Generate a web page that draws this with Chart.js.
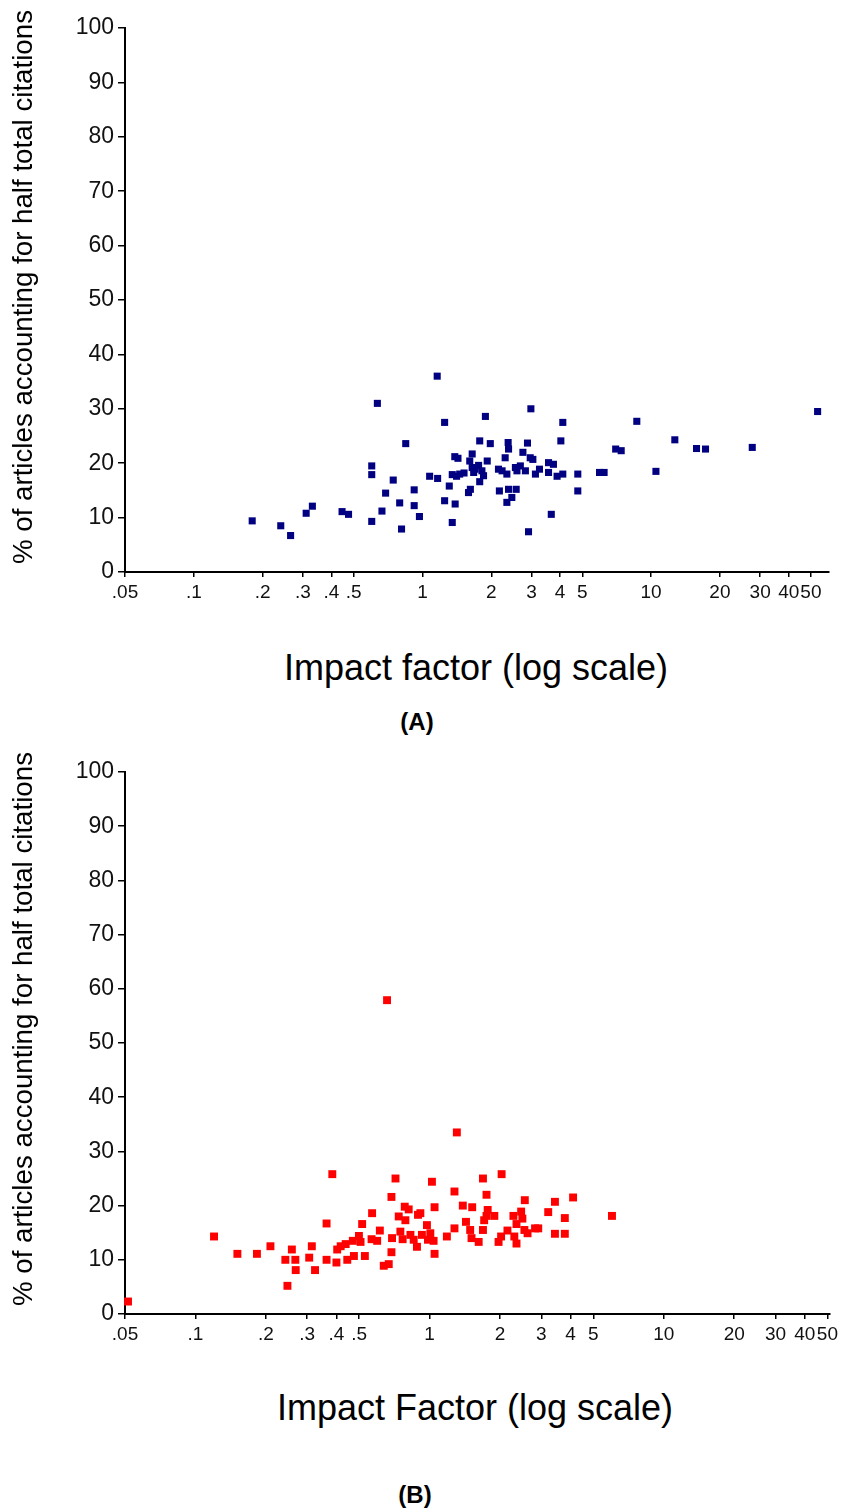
<!DOCTYPE html>
<html lang="en">
<head>
<meta charset="UTF-8">
<title>Half total citations vs impact factor</title>
<script src="https://cdn.jsdelivr.net/npm/chart.js@4"></script>
<style>
    body {
        margin: 0;
        background: #fff;
        font-family: 'Liberation Sans', Arial, sans-serif;
    }

    .page {
        position: relative;
        width: 842px;
        height: 1510px;
        overflow: hidden;
    }

    canvas {
        position: absolute;
        left: 0;
    }

    /* axis titles and panel letters */
    .xtitle {
        position: absolute;
        left: 176px;
        width: 600px;
        text-align: center;
        font-size: 36px;
        line-height: 36px;
        color: #000;
        white-space: nowrap;
    }

    .ytitle {
        position: absolute;
        width: 600px;
        height: 28px;
        text-align: center;
        font-size: 27.7px;
        line-height: 28px;
        color: #000;
        white-space: nowrap;
        transform: rotate(-90deg);
    }

    .panel {
        position: absolute;
        left: 317px;
        width: 200px;
        text-align: center;
        font-size: 24px;
        line-height: 24px;
        font-weight: bold;
        color: #000;
    }
</style>
</head>
<body>
<div class="page">
    <canvas id="chartA" width="842" height="610" style="top:0"></canvas>
    <div class="ytitle" style="left:-277px; top:273px;">% of articles accounting for half total citations</div>
    <div class="xtitle" style="top:650px;">Impact factor (log scale)</div>
    <div class="panel" style="top:710px;">(A)</div>

    <canvas id="chartB" width="842" height="610" style="top:740px"></canvas>
    <div class="ytitle" style="left:-277px; top:1015px;">% of articles accounting for half total citations</div>
    <div class="xtitle" style="top:1390px; left:175px;">Impact Factor (log scale)</div>
    <div class="panel" style="top:1483px; left:315px;">(B)</div>
</div>

<script>
    // Axis ticks
    const xTickValues = [0.05, 0.1, 0.2, 0.3, 0.4, 0.5, 1, 2, 3, 4, 5, 10, 20, 30, 40, 50];
    const xTickLabels = ['.05', '.1', '.2', '.3', '.4', '.5', '1', '2', '3', '4', '5', '10', '20', '30', '40', '50'];
    const yTickValues = [0, 10, 20, 30, 40, 50, 60, 70, 80, 90, 100];

    // Panel A - impact factor vs % of articles
    const impactA = [
        0.18, 0.24, 0.265, 0.31, 0.33, 0.445, 0.475, 0.60, 0.60, 0.60,
        0.635, 0.665, 0.69, 0.745, 0.795, 0.81, 0.845, 0.92, 0.92, 0.97,
        1.075, 1.165, 1.16, 1.25, 1.25, 1.31, 1.35, 1.385, 1.43, 1.35,
        1.455, 1.39, 1.41, 1.59, 1.62, 1.65, 1.61, 1.65, 1.675, 1.78,
        1.78, 1.82, 1.85, 1.885, 1.92, 1.98, 1.76, 1.70, 2.15, 2.17,
        2.23, 2.30, 2.34, 2.37, 2.38, 2.34, 2.38, 2.46, 2.57, 2.55,
        2.68, 2.75, 2.82, 2.88, 2.91, 2.98, 2.96, 3.04, 3.12, 3.25,
        3.56, 3.56, 3.74, 3.66, 3.88, 4.03, 4.11, 4.11, 4.78, 4.78,
        5.95, 6.23, 7.0, 7.4, 8.66, 10.5, 12.7, 15.8, 17.3, 27.7,
        53.5, 2.59, 1.52
    ];
    const pctA = [
        9.4, 8.5, 6.7, 10.8, 12.1, 11.1, 10.6, 19.5, 17.9, 9.3,
        31.0, 11.2, 14.5, 16.9, 12.7, 7.9, 23.6, 15.1, 12.2, 10.2,
        17.6, 17.2, 36.0, 27.5, 13.1, 15.8, 9.1, 21.2, 20.9, 17.9,
        18.0, 12.5, 17.6, 14.6, 15.2, 21.7, 20.4, 19.2, 18.3, 24.1,
        16.6, 18.6, 17.7, 28.6, 20.4, 23.6, 19.6, 18.9, 18.9, 14.9,
        18.6, 21.0, 18.0, 23.8, 22.6, 12.8, 15.2, 13.7, 15.2, 19.2,
        19.5, 22.0, 18.6, 23.7, 7.4, 30.0, 21.0, 20.7, 18.0, 18.9,
        20.1, 18.3, 19.8, 10.6, 17.6, 24.1, 27.5, 18.0, 18.0, 14.9,
        18.3, 18.3, 22.6, 22.3, 27.7, 18.5, 24.3, 22.7, 22.6, 22.9,
        29.5, 18.6, 18.2
    ];

    // Panel B
    const impactB = [
        0.0515, 0.120, 0.151, 0.183, 0.209, 0.242, 0.247, 0.258, 0.267, 0.268,
        0.306, 0.314, 0.324, 0.363, 0.363, 0.384, 0.400, 0.403, 0.417, 0.438,
        0.445, 0.470, 0.475, 0.499, 0.507, 0.515, 0.529, 0.565, 0.568, 0.597,
        0.613, 0.637, 0.658, 0.669, 0.687, 0.687, 0.691, 0.715, 0.738, 0.750,
        0.767, 0.783, 0.788, 0.814, 0.828, 0.855, 0.883, 0.892, 0.913, 0.927,
        0.974, 0.984, 1.007, 1.023, 1.04, 1.05, 1.05, 1.185, 1.277, 1.277,
        1.307, 1.386, 1.43, 1.49, 1.51, 1.52, 1.62, 1.69, 1.69, 1.71,
        1.75, 1.77, 1.75, 1.89, 1.97, 2.03, 2.02, 2.15, 2.28, 2.30,
        2.35, 2.35, 2.46, 2.49, 2.54, 2.55, 2.62, 2.82, 2.91, 3.21,
        3.43, 3.43, 3.78, 3.78, 4.10, 6.01
    ];
    const pctB = [
        2.3, 14.3, 11.1, 11.1, 12.5, 10.0, 5.2, 11.9, 10.0, 8.1,
        10.4, 12.5, 8.1, 16.7, 10.0, 25.8, 9.5, 11.9, 12.5, 12.9,
        10.0, 13.5, 10.7, 14.4, 13.3, 16.6, 10.7, 13.8, 18.6, 13.5,
        15.4, 8.9, 57.9, 9.2, 21.6, 11.4, 14.0, 25.0, 18.0, 15.2,
        13.8, 19.8, 17.3, 19.3, 14.6, 13.7, 12.4, 18.3, 18.6, 14.6,
        16.4, 13.7, 14.9, 24.4, 13.5, 19.7, 11.1, 14.3, 15.8, 22.6,
        33.5, 20.0, 17.0, 15.5, 14.0, 19.7, 13.3, 25.0, 15.5, 17.3,
        22.0, 19.2, 18.1, 18.1, 13.3, 25.8, 14.3, 15.4, 18.1, 14.3,
        13.0, 16.6, 18.9, 17.6, 15.5, 21.0, 14.9, 15.8, 15.8, 18.8,
        20.7, 14.8, 17.7, 14.8, 21.5, 18.1
    ];

    const fontFamily = "'Liberation Sans', Arial, sans-serif";

    function makeChart(id, xs, ys, opts) {
        const points = xs.map((x, i) => ({ x: x, y: ys[i] }));
        return new Chart(document.getElementById(id), {
            type: 'scatter',
            data: {
                datasets: [{
                    data: points,
                    pointStyle: 'rect',
                    pointRadius: opts.radius,
                    pointHoverRadius: opts.radius,
                    backgroundColor: opts.color,
                    borderColor: opts.color,
                    borderWidth: 0,
                    clip: false
                }]
            },
            options: {
                responsive: false,
                animation: false,
                layout: { padding: { top: opts.top, right: opts.right, left: 0, bottom: 0 } },
                plugins: { legend: { display: false }, tooltip: { enabled: false } },
                scales: {
                    x: {
                        type: 'logarithmic',
                        bounds: 'data',
                        min: 0.05,
                        max: opts.xMax,
                        afterBuildTicks: s => { s.ticks = xTickValues.map(v => ({ value: v })); },
                        afterFit: s => { s.height = opts.xHeight; },
                        ticks: {
                            autoSkip: false,
                            maxRotation: 0,
                            minRotation: 0,
                            padding: 4,
                            color: '#111',
                            font: { family: fontFamily, size: 19 },
                            callback: v => xTickLabels[xTickValues.indexOf(v)]
                        },
                        grid: { drawOnChartArea: false, drawTicks: true, tickLength: 5, color: '#000', lineWidth: 1.5 },
                        border: { display: true, color: '#000', width: 2 }
                    },
                    y: {
                        min: 0,
                        max: 100,
                        afterBuildTicks: s => { s.ticks = yTickValues.map(v => ({ value: v })); },
                        afterFit: s => { s.width = 125; },
                        ticks: {
                            padding: 4,
                            color: '#111',
                            font: { family: fontFamily, size: 23 }
                        },
                        grid: { drawOnChartArea: false, drawTicks: true, tickLength: 7, color: '#000', lineWidth: 1.5 },
                        border: { display: true, color: '#000', width: 2 }
                    }
                }
            }
        });
    }

    makeChart('chartA', impactA, pctA, { color: '#000080', radius: 5, xMax: 60, top: 28, right: 13, xHeight: 38 });
    makeChart('chartB', impactB, pctB, { color: '#ff0000', radius: 5.6, xMax: 51, top: 32, right: 10, xHeight: 36 });
</script>
</body>
</html>
